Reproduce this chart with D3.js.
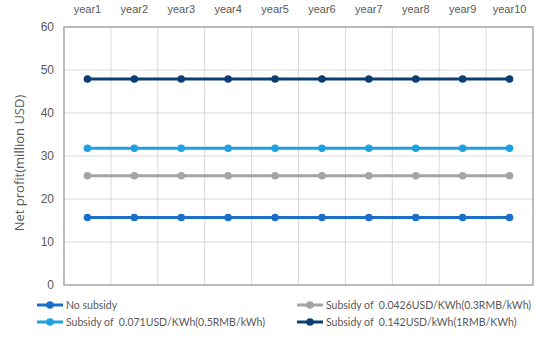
<!DOCTYPE html>
<html>
<head>
<meta charset="utf-8">
<script src="https://cdn.jsdelivr.net/npm/d3@7"></script>
<style>
  body { margin: 0; background: #fff; }
  svg { font-family: Lato, "Open Sans", sans-serif; }
  svg text { white-space: pre; }
</style>
</head>
<body>
<svg id="chart" width="550" height="341"></svg>
<script>
var years = ["year1", "year2", "year3", "year4", "year5", "year6", "year7", "year8", "year9", "year10"];
var yTicks = [0, 10, 20, 30, 40, 50, 60];
var noSubsidy = [15.7, 15.7, 15.7, 15.7, 15.7, 15.7, 15.7, 15.7, 15.7, 15.7];
var subsidy03 = [25.4, 25.4, 25.4, 25.4, 25.4, 25.4, 25.4, 25.4, 25.4, 25.4];
var subsidy05 = [31.8, 31.8, 31.8, 31.8, 31.8, 31.8, 31.8, 31.8, 31.8, 31.8];
var subsidy1 = [47.9, 47.9, 47.9, 47.9, 47.9, 47.9, 47.9, 47.9, 47.9, 47.9];
var seriesNames = [
  "No subsidy",
  "Subsidy of  0.0426USD/KWh(0.3RMB/kWh)",
  "Subsidy of  0.071USD/KWh(0.5RMB/kWh)",
  "Subsidy of  0.142USD/kWh(1RMB/KWh)"
];

var colors = ["#1c6fc9", "#a5a5a5", "#1fa0df", "#0b3f73"];
var series = [noSubsidy, subsidy03, subsidy05, subsidy1];

var svg = d3.select("#chart");
var plotLeft = 64, plotRight = 533, plotTop = 27, plotBottom = 285;

var x = d3.scaleBand().domain(years).range([plotLeft, plotRight]);
var y = d3.scaleLinear().domain([0, 60]).range([plotBottom, plotTop]);

// grid
svg.append("g").selectAll("line").data(yTicks.slice(1))
  .enter().append("line")
  .attr("x1", plotLeft).attr("x2", plotRight)
  .attr("y1", function(d) { return y(d); }).attr("y2", function(d) { return y(d); })
  .attr("stroke", "#d9d9d9").attr("stroke-width", 1);
svg.append("g").selectAll("line").data(years.slice(1))
  .enter().append("line")
  .attr("x1", function(d) { return x(d); }).attr("x2", function(d) { return x(d); })
  .attr("y1", plotTop).attr("y2", plotBottom)
  .attr("stroke", "#d9d9d9").attr("stroke-width", 1);

// frame
svg.append("rect")
  .attr("x", plotLeft).attr("y", plotTop)
  .attr("width", plotRight - plotLeft).attr("height", plotBottom - plotTop)
  .attr("fill", "none").attr("stroke", "#a6a6a6").attr("stroke-width", 1.5);

// y axis
var yAxis = d3.axisLeft(y).tickValues(yTicks).tickSize(0).tickPadding(10);
var gy = svg.append("g").attr("transform", "translate(" + plotLeft + ",0)").call(yAxis);
gy.select(".domain").remove();
gy.selectAll("text").attr("fill", "#595959").style("font-size", "12px");

// x axis on top
var xAxis = d3.axisTop(x).tickSize(0).tickPadding(10);
var gx = svg.append("g").attr("transform", "translate(0," + (plotTop - 4) + ")").call(xAxis);
gx.select(".domain").remove();
gx.selectAll("text").attr("fill", "#595959").style("font-size", "11px");

// y title
svg.append("text")
  .attr("transform", "translate(24,163) rotate(-90)")
  .attr("text-anchor", "middle")
  .attr("fill", "#595959")
  .style("font-family", "'Open Sans', sans-serif")
  .style("font-size", "13px")
  .text("Net profit(million USD)");

// lines
var line = d3.line()
  .x(function(d, i) { return x(years[i]) + x.bandwidth() / 2; })
  .y(function(d) { return y(d); });

series.forEach(function(s, k) {
  svg.append("path").datum(s)
    .attr("d", line)
    .attr("fill", "none")
    .attr("stroke", colors[k]).attr("stroke-width", 3);
  svg.append("g").selectAll("circle").data(s)
    .enter().append("circle")
    .attr("cx", function(d, i) { return x(years[i]) + x.bandwidth() / 2; })
    .attr("cy", function(d) { return y(d); })
    .attr("r", 3.8)
    .attr("fill", colors[k]);
});

// legend
var legendPos = [[37, 305], [297, 305], [37, 322], [297, 322]];
series.forEach(function(s, k) {
  var g = svg.append("g").attr("transform", "translate(" + legendPos[k][0] + "," + legendPos[k][1] + ")");
  g.append("line").attr("x1", 0).attr("x2", 26).attr("y1", 0).attr("y2", 0)
    .attr("stroke", colors[k]).attr("stroke-width", 3);
  g.append("circle").attr("cx", 13).attr("cy", 0).attr("r", 3.8).attr("fill", colors[k]);
  g.append("text").attr("x", 29).attr("y", 4)
    .attr("fill", "#595959").style("font-size", "10.5px")
    .text(seriesNames[k]);
});
</script>
</body>
</html>
